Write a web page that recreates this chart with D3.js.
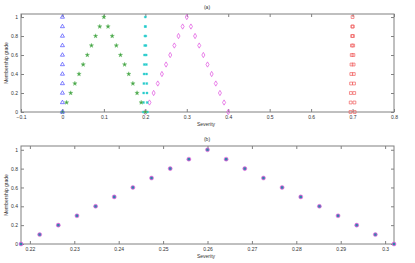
<!DOCTYPE html>
<html><head><meta charset="utf-8">
<script src="https://cdn.jsdelivr.net/npm/d3@7"></script>
<style>body{margin:0;background:#fff}svg{display:block;font-family:"Liberation Sans",Arial,sans-serif}</style>
</head><body>
<svg id="c" width="415" height="263"></svg>
<script>
// ---- data ----
const gradesUp = [0,0.1,0.2,0.3,0.4,0.5,0.6,0.7,0.8,0.9,1];
const gradesTri = [0,0.1,0.2,0.3,0.4,0.5,0.6,0.7,0.8,0.9,1,0.9,0.8,0.7,0.6,0.5,0.4,0.3,0.2,0.1,0];
const blueX = [0,0,0,0,0,0,0,0,0,0,0];
const greenX = [0,0.01,0.02,0.03,0.04,0.05,0.06,0.07,0.08,0.09,0.1,0.11,0.12,0.13,0.14,0.15,0.16,0.17,0.18,0.19,0.2];
const cyanX = [0.195,0.1955,0.196,0.1965,0.197,0.1975,0.198,0.1985,0.199,0.1995,0.2,0.2005,0.201,0.2015,0.202,0.2025,0.203,0.2035,0.204,0.2045,0.205];
const magentaX = [0.2,0.21,0.22,0.23,0.24,0.25,0.26,0.27,0.28,0.29,0.3,0.31,0.32,0.33,0.34,0.35,0.36,0.37,0.38,0.39,0.4];
const redX = [0.695,0.6955,0.696,0.6965,0.697,0.6975,0.698,0.6985,0.699,0.6995,0.7,0.7005,0.701,0.7015,0.702,0.7025,0.703,0.7035,0.704,0.7045,0.705];
const bX = [0.218,0.2222,0.2264,0.2306,0.2348,0.239,0.2432,0.2474,0.2516,0.2558,0.26,0.2642,0.2684,0.2726,0.2768,0.281,0.2852,0.2894,0.2936,0.2978,0.302];
const xTicksA = [-0.1,0,0.1,0.2,0.3,0.4,0.5,0.6,0.7,0.8];
const xTicksB = [0.22,0.23,0.24,0.25,0.26,0.27,0.28,0.29,0.3];
const yTicks = [0,0.2,0.4,0.6,0.8,1];

const svg = d3.select("#c");
const axisCol = "#808080", txtCol = "#333";

function panel(top, bottom, xDom, yMax, xTicks, xFmt, title) {
  const x = d3.scaleLinear().domain(xDom).range([21, 394]);
  const y = d3.scaleLinear().domain([0, yMax]).range([bottom, top]);
  const g = svg.append("g");
  g.append("rect").attr("x",21).attr("y",top).attr("width",373).attr("height",bottom-top)
    .attr("fill","none").attr("stroke",axisCol).attr("stroke-width",1);
  const ax = (gen, tr) => {
    const a = g.append("g").attr("transform", tr).call(gen);
    a.select(".domain").remove();
    a.selectAll("line").attr("stroke", axisCol);
    a.selectAll("text").attr("fill", txtCol).attr("font-size", 5);
    return a;
  };
  ax(d3.axisBottom(x).tickValues(xTicks).tickFormat(xFmt).tickSizeInner(-3).tickSizeOuter(0).tickPadding(3.8), `translate(0,${bottom})`);
  ax(d3.axisTop(x).tickValues(xTicks).tickFormat("").tickSizeInner(-3).tickSizeOuter(0), `translate(0,${top})`);
  ax(d3.axisLeft(y).tickValues(yTicks).tickFormat(d3.format("~g")).tickSizeInner(-3).tickSizeOuter(0).tickPadding(3), `translate(21,0)`);
  ax(d3.axisRight(y).tickValues(yTicks).tickFormat("").tickSizeInner(-3).tickSizeOuter(0), `translate(394,0)`);
  g.append("text").attr("x",206).attr("y",bottom+13.5).attr("text-anchor","middle")
    .attr("font-size",5).attr("fill",txtCol).text("Severity");
  g.append("text").attr("transform",`translate(8,${(top+bottom)/2}) rotate(-90)`).attr("text-anchor","middle")
    .attr("font-size",5).attr("fill",txtCol).text("Membership grade");
  g.append("text").attr("x",207).attr("y",top-5).attr("text-anchor","middle")
    .attr("font-size",5).attr("fill",txtCol).text(title);
  return {g, x, y};
}

// Panel (a)
const A = panel(14, 112, [-0.1, 0.8], 1.032, xTicksA, d3.format("~g"), "(a)");
const pts = (xs, ys) => xs.map((v,i)=>({x:v, y:ys[i]}));
const sym = (type, size) => d3.symbol().type(type).size(size)();

function plot(P, data, type, size, fill, stroke, sw) {
  P.g.append("g").selectAll("path").data(data).join("path")
    .attr("transform", d=>`translate(${P.x(d.x)},${P.y(d.y)})`)
    .attr("d", sym(type, size)).attr("fill", fill).attr("stroke", stroke).attr("stroke-width", sw);
}
plot(A, pts(redX, gradesTri), d3.symbolSquare, 8, "none", "#f06060", 0.7);
plot(A, pts(magentaX, gradesTri), d3.symbolDiamond, 8, "none", "#e050e0", 0.7);
plot(A, pts(cyanX, gradesTri), d3.symbolSquare, 4, "#20c8c8", "#50d8d8", 0.4);
plot(A, pts(greenX, gradesTri), d3.symbolStar, 6, "#40a040", "#70c070", 0.4);
plot(A, pts(blueX, gradesUp), d3.symbolTriangle, 7, "none", "#4848ff", 0.7);

// Panel (b)
const B = panel(146, 244, [0.218, 0.302], 1.04, xTicksB, d3.format("~g"), "(b)");
plot(B, pts(bX, gradesTri), d3.symbolCircle, 13, "#c860d8", "#d060d0", 0.4);
plot(B, pts(bX, gradesTri), d3.symbolSquare, 5, "#2a88a8", "none", 0);
</script>
</body></html>
